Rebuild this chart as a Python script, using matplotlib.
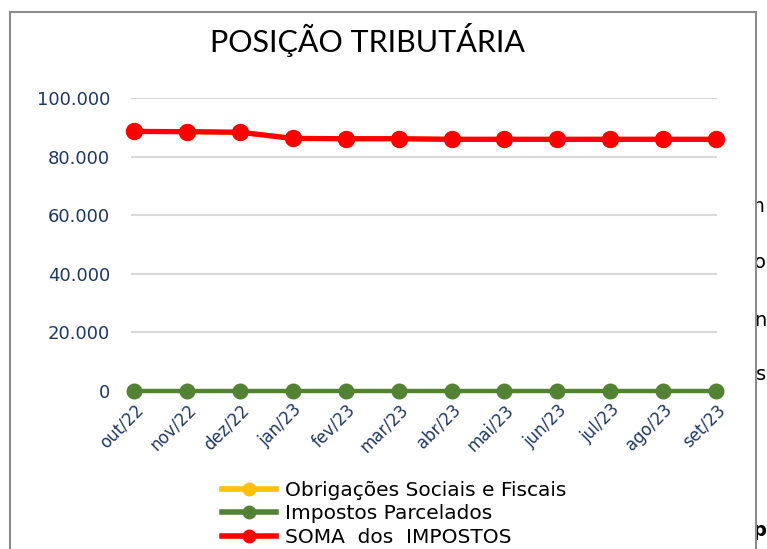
import numpy as np
import matplotlib
matplotlib.use("Agg")
import matplotlib.pyplot as plt
from matplotlib.lines import Line2D
from matplotlib.patches import Rectangle

months = ['out/22', 'nov/22', 'dez/22', 'jan/23', 'fev/23', 'mar/23',
          'abr/23', 'mai/23', 'jun/23', 'jul/23', 'ago/23', 'set/23']
obrigacoes = [88600, 88500, 88300, 86200, 86100, 86100,
              85900, 85900, 85900, 85900, 85900, 85900]
parcelados = [0, 0, 0, 0, 0, 0, 0, 0, 0, 0, 0, 0]
soma = [88600, 88500, 88300, 86200, 86100, 86100,
        85900, 85900, 85900, 85900, 85900, 85900]
yticks = [0, 20000, 40000, 60000, 80000, 100000]

W, H = 767, 549
fig = plt.figure(figsize=(W / 100, H / 100), dpi=100)
fig.patch.set_facecolor('white')

def px(x0, y0, x1, y1):
    # pixel box -> figure fraction [left, bottom, width, height]
    return [x0 / W, 1 - y1 / H, (x1 - x0) / W, (y1 - y0) / H]

ax = fig.add_axes(px(131, 98, 717, 391))
x = np.arange(len(months))
navy = '#1F3864'

ax.plot(x, obrigacoes, color='#FFC000', lw=3.5, marker='o', ms=11, clip_on=False, zorder=3)
ax.plot(x, parcelados, color='#548235', lw=3.2, marker='o', ms=10.5, clip_on=False, zorder=4)
ax.plot(x, soma, color='#FF0000', lw=3.8, marker='o', ms=11.5, clip_on=False, zorder=5)

ax.set_xlim(-0.06, 11.02)
ax.set_ylim(0, 100000)
ax.set_yticks(yticks)
ax.set_yticklabels([f"{v:,}".replace(',', '.') for v in yticks], color=navy, fontsize=13)
ax.set_xticks(x)
ax.set_xticklabels(months, rotation=45, ha='right', rotation_mode='anchor',
                   color=navy, fontsize=12)
ax.tick_params(length=0, axis='y', pad=15)
ax.tick_params(length=0, axis='x', pad=7)
for s in ax.spines.values():
    s.set_visible(False)
ax.grid(axis='y', color='#D9D9D9', lw=1.5)
ax.set_axisbelow(True)

fig.text(367 / W, 1 - 40 / H, 'POSIÇÃO TRIBUTÁRIA', ha='center', va='center',
         fontsize=22, family='Lato', fontweight='normal', color='black')

handles = [
    Line2D([], [], color='#FFC000', lw=4, marker='o', ms=9),
    Line2D([], [], color='#548235', lw=4, marker='o', ms=9),
    Line2D([], [], color='#FF0000', lw=4, marker='o', ms=9),
]
labels = ['Obrigações Sociais e Fiscais', 'Impostos Parcelados', 'SOMA  dos  IMPOSTOS']
fig.legend(handles, labels, loc='upper left', bbox_to_anchor=(214 / W, 1 - 473 / H),
           frameon=False, fontsize=14.5, handlelength=2.7, handletextpad=0.45,
           labelspacing=0.22, borderaxespad=0)

# bits of the page text peeking out at the right, partly hidden by the chart
for txt, yy, wt in [('om', 207, 'normal'), ('o', 263, 'normal'), ('n', 320, 'normal'),
                    ('s', 375, 'normal'), ('p', 530, 'bold')]:
    fig.text(766 / W, 1 - yy / H, txt, ha='right', va='center', fontsize=14,
             fontweight=wt, color='black', zorder=5)
fig.add_artist(Rectangle((735 / W, 0), 21.5 / W, 1 - 12 / H, facecolor='white',
                         edgecolor='none', zorder=9))

# chart frame (bottom edge falls outside the picture)
fc = '#8C8C8C'
fig.add_artist(Line2D([10 / W, 10 / W], [0, 1 - 12 / H], color=fc, lw=1.5, zorder=10))
fig.add_artist(Line2D([10 / W, 756 / W], [1 - 12 / H, 1 - 12 / H], color=fc, lw=1.5, zorder=10))
fig.add_artist(Line2D([756 / W, 756 / W], [0, 1 - 12 / H], color=fc, lw=1.5, zorder=10))

fig.savefig('out.png', dpi=100)
